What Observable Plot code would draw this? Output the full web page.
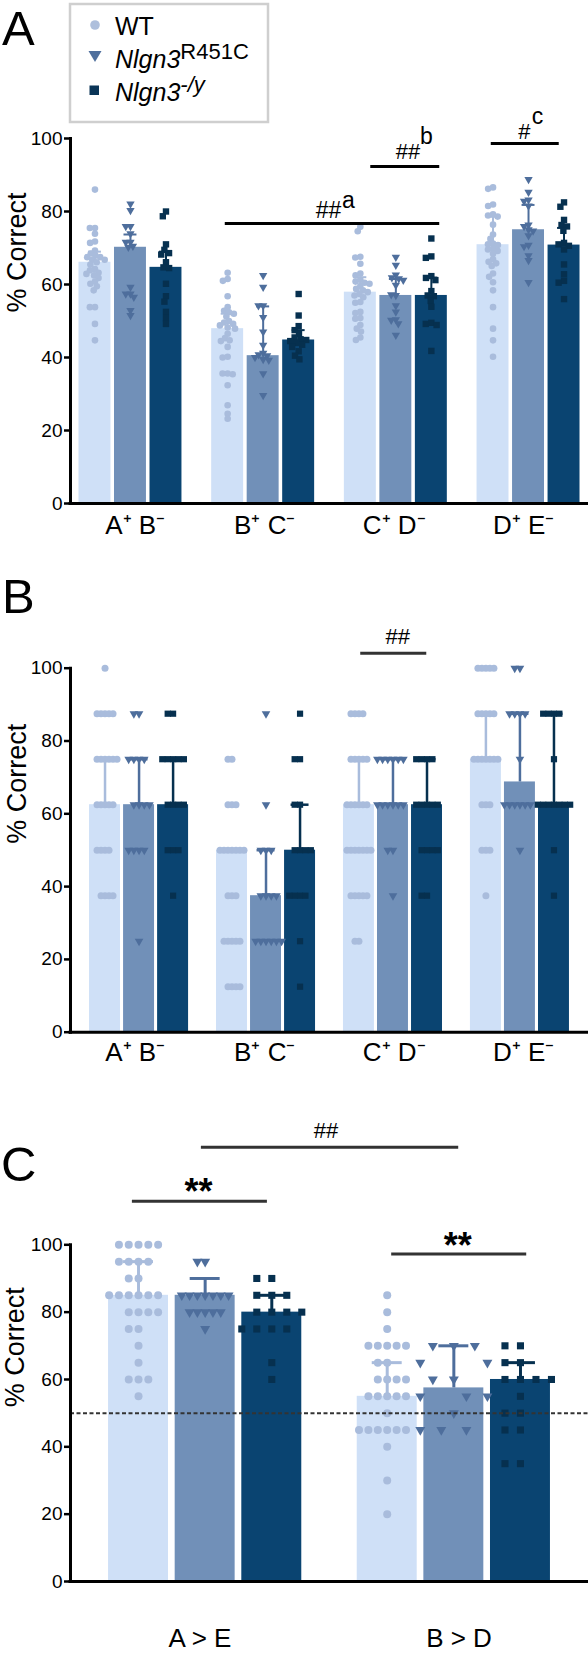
<!DOCTYPE html>
<html><head><meta charset="utf-8">
<script src="https://cdn.jsdelivr.net/npm/d3@7"></script>
<script src="https://cdn.jsdelivr.net/npm/@observablehq/plot@0.6"></script>
<style>
body{margin:0;background:#fff;font-family:"Liberation Sans",Arial,Helvetica,sans-serif;}
#page{position:relative;width:588px;height:1655px;overflow:hidden;background:#fff;}
.panel{position:absolute;left:0;width:588px;}
.panel svg{position:absolute;left:0;top:0;}
</style></head><body><div id="page">
<div class="panel" id="pA" style="top:0;height:540px"></div>
<div class="panel" id="pB" style="top:540px;height:550px"></div>
<div class="panel" id="pC" style="top:1090px;height:565px"></div>
<svg id="deco" width="588" height="1655" style="position:absolute;left:0;top:0;pointer-events:none;font-family:'Liberation Sans',Arial,sans-serif">
  <text x="2" y="45" font-size="49">A</text>
  <text x="2" y="613" font-size="49">B</text>
  <text x="1" y="1181" font-size="49">C</text>
  <rect x="70" y="4" width="198" height="118" fill="#fff" stroke="#cfcfcf" stroke-width="2.5"/>
  <circle cx="95" cy="25" r="4.8" fill="#aebfdc"/>
  <path d="M88.5,51 L101.5,51 L95,62 Z" fill="#4f6f9d"/>
  <rect x="89.5" y="85.5" width="9.5" height="9.5" fill="#0a3557"/>
  <text x="115" y="35" font-size="25">WT</text>
  <text x="115" y="68" font-size="25"><tspan font-style="italic">Nlgn3</tspan><tspan font-size="22" dy="-9">R451C</tspan></text>
  <text x="115" y="101" font-size="25"><tspan font-style="italic">Nlgn3</tspan><tspan font-size="22" dy="-9" font-style="italic">-/y</tspan></text>
</svg>
</div>
<script>
// ---------------- data ----------------
const genotypes = ["WT", "R451C", "KO"];
const groupsA = ["A⁺ B⁻", "B⁺ C⁻", "C⁺ D⁻", "D⁺ E⁻"];
const groupsB = ["A⁺ B⁻", "B⁺ C⁻", "C⁺ D⁻", "D⁺ E⁻"];
const groupsC = ["A > E", "B > D"];
const yTicks = [0, 20, 40, 60, 80, 100];
const chanceC = [50];

// Panel A: individual animals (% correct), one list per pair
const dotsA_WT = [
  [86.0, 75.5, 75.5, 73.9, 71.8, 71.4, 69.3, 68.5, 67.9, 67.5, 67.5, 66.8, 66.8, 66.1, 65.5, 64.2, 63.9, 63.2, 62.9, 62.5, 61.8, 60.8, 60.2, 59.5, 58.4, 53.8, 53.8, 49.2, 44.7],
  [63.2, 61.5, 61.0, 56.8, 53.8, 52.8, 52.4, 52.0, 51.2, 50.0, 49.6, 49.2, 48.8, 48.2, 47.9, 46.5, 45.3, 44.7, 44.5, 42.9, 40.2, 40.0, 35.6, 35.6, 35.4, 32.4, 26.9, 24.6, 23.2],
  [75.8, 74.6, 67.6, 67.4, 65.7, 63.0, 62.5, 61.3, 60.8, 60.5, 60.2, 59.6, 58.8, 58.4, 57.9, 57.4, 57.0, 56.5, 55.2, 55.0, 52.5, 52.2, 50.8, 50.6, 48.9, 47.9, 47.1, 45.5, 44.8],
  [86.6, 86.2, 81.9, 81.5, 79.2, 78.9, 78.6, 76.4, 73.7, 72.5, 71.2, 71.0, 70.8, 69.8, 69.6, 69.2, 68.4, 66.9, 66.2, 65.8, 65.1, 63.0, 62.1, 60.6, 58.4, 53.8, 47.9, 44.7, 40.2]
];
const dotsA_R451C = [
  [82.1, 80.3, 75.9, 75.9, 73.9, 71.6, 71.6, 70.5, 70.2, 59.3, 57.4, 57.4, 56.5, 52.9, 51.5],
  [62.5, 59.3, 54.2, 54.2, 51.0, 47.0, 43.4, 41.2, 40.8, 40.5, 40.0, 39.5, 39.3, 35.6, 29.6],
  [67.5, 65.3, 62.6, 61.9, 61.6, 61.2, 59.8, 57.0, 57.2, 54.2, 52.5, 50.4, 50.2, 49.3, 46.1],
  [88.8, 85.3, 83.2, 82.8, 81.5, 76.3, 75.9, 75.0, 74.7, 73.4, 70.8, 70.4, 67.9, 66.6, 60.6]
];
const dotsA_KO = [
  [80.0, 78.7, 71.0, 69.5, 68.6, 68.2, 66.1, 64.7, 64.5, 60.2, 56.8, 55.3, 52.5, 50.8, 49.2],
  [57.4, 51.5, 48.6, 47.5, 46.5, 45.5, 45.0, 44.8, 44.5, 44.0, 43.5, 42.9, 41.7, 40.5, 39.5],
  [72.6, 67.7, 67.3, 62.3, 61.8, 61.2, 58.2, 57.0, 56.8, 55.5, 53.9, 49.5, 49.2, 48.9, 41.8],
  [82.5, 81.3, 77.7, 76.3, 75.9, 74.7, 71.4, 71.0, 70.6, 69.6, 65.5, 62.8, 61.0, 60.5, 56.0]
];
// bar heights and upper error limits [group][WT, R451C, KO]
const barsA = [[66.1, 70.2, 64.7], [47.9, 40.5, 44.8], [57.9, 57.0, 57.0], [70.9, 75.0, 70.8]];
const errsA = [[69.0, 73.7, 69.0], [52.0, 54.0, 47.5], [62.0, 61.5, 61.9], [78.6, 81.8, 75.5]];
const sigA = [
  {from: "B⁺ C⁻", to: "C⁺ D⁻", at: "C⁺ D⁻", y: 76.7, label: "##", sup: "a"},
  {from: "C⁺ D⁻", to: "C⁺ D⁻", at: "C⁺ D⁻", y: 92.3, label: "##", sup: "b"},
  {from: "D⁺ E⁻", to: "D⁺ E⁻", at: "D⁺ E⁻", y: 98.6, label: "#", sup: "c"}
];

// Panel B
const dotsB_WT = [
  [100, 87.5, 87.5, 87.5, 87.5, 87.5, 75, 75, 75, 75, 75, 75, 62.5, 62.5, 62.5, 62.5, 62.5, 50, 50, 50, 50, 37.5, 37.5, 37.5, 37.5],
  [75, 75, 62.5, 62.5, 62.5, 50, 50, 50, 50, 50, 50, 50, 37.5, 37.5, 37.5, 25, 25, 25, 25, 25, 12.5, 12.5, 12.5, 12.5],
  [87.5, 87.5, 87.5, 87.5, 75, 75, 75, 75, 75, 62.5, 62.5, 62.5, 62.5, 62.5, 62.5, 50, 50, 50, 50, 50, 50, 50, 37.5, 37.5, 37.5, 37.5, 37.5, 25, 25],
  [100, 100, 100, 100, 100, 87.5, 87.5, 87.5, 87.5, 87.5, 75, 75, 75, 75, 75, 75, 75, 62.5, 62.5, 62.5, 50, 50, 50, 37.5]
];
const dotsB_R451C = [
  [87.5, 87.5, 75, 75, 75, 75, 62.5, 62.5, 62.5, 62.5, 50, 50, 50, 50, 25],
  [87.5, 62.5, 50, 50, 50, 37.5, 37.5, 37.5, 37.5, 25, 25, 25, 25, 25, 25],
  [75, 75, 75, 75, 75, 75, 62.5, 62.5, 62.5, 62.5, 62.5, 62.5, 50, 50, 37.5],
  [100, 100, 87.5, 87.5, 87.5, 87.5, 75, 62.5, 62.5, 62.5, 62.5, 62.5, 62.5, 50]
];
const dotsB_KO = [
  [87.5, 87.5, 75, 75, 75, 75, 75, 62.5, 62.5, 62.5, 62.5, 50, 50, 50, 37.5],
  [87.5, 75, 75, 62.5, 62.5, 50, 50, 50, 50, 37.5, 37.5, 37.5, 37.5, 25, 12.5],
  [75, 75, 75, 75, 62.5, 62.5, 62.5, 62.5, 62.5, 50, 50, 50, 50, 37.5, 37.5],
  [87.5, 87.5, 87.5, 87.5, 75, 62.5, 62.5, 62.5, 62.5, 62.5, 62.5, 62.5, 50, 37.5]
];
const barsB = [[62.5, 62.5, 62.5], [50, 37.5, 50], [62.5, 62.5, 62.5], [75, 68.75, 62.5]];
const errsB = [[75, 75, 75], [50, 50, 62.5], [75, 75, 75], [87.5, 87.5, 87.5]];
const sigB = [
  {from: "C⁺ D⁻", to: "C⁺ D⁻", at: "C⁺ D⁻", y: 104.1, label: "##", sup: null}
];

// Panel C
const dotsC_WT = [
  [100, 100, 100, 100, 100, 95, 95, 95, 95, 90, 90, 85, 85, 85, 85, 85, 85, 80, 80, 80, 80, 75, 75, 70, 65, 60, 60, 60, 55],
  [85, 80, 75, 70, 70, 70, 70, 70, 65, 65, 60, 60, 60, 60, 55, 55, 55, 55, 55, 50, 45, 45, 45, 45, 45, 45, 40, 30, 20]
];
const dotsC_R451C = [
  [95, 95, 85, 85, 85, 85, 85, 85, 85, 80, 80, 80, 80, 80, 75],
  [70, 70, 70, 65, 65, 60, 60, 55, 55, 55, 50, 45, 45, 45]
];
const dotsC_KO = [
  [90, 90, 85, 85, 85, 80, 80, 80, 80, 75, 75, 75, 75, 65, 60],
  [70, 70, 65, 65, 60, 60, 60, 60, 55, 50, 50, 45, 45, 35, 35]
];
const barsC = [[85, 85, 80], [55, 57.5, 60]];
const errsC = [[95, 90, 85], [65, 70, 65]];
const sigC = [
  {from: "A > E", to: "A > E", at: "A > E", y: 112.9, label: "**", sup: null},
  {from: "A > E", to: "B > D", at: "A > E", y: 129.0, label: "##", sup: null},
  {from: "B > D", to: "B > D", at: "B > D", y: 97.3, label: "**", sup: null}
];

// ---------------- style ----------------
const FONT = '"Liberation Sans", Arial, Helvetica, sans-serif';
const W = 588, ML = 70, MR = 0;
const barColor = {WT: "#cfe0f7", R451C: "#7190b8", KO: "#0a4471"};
const dotColor = {WT: "#a9bcdc", R451C: "#4e6e9c", KO: "#06304f"};
const triangleDown = {
  draw(context, size) {
    const a = Math.sqrt(size * 4 / Math.sqrt(3));
    const h = a * Math.sqrt(3) / 2;
    context.moveTo(-a / 2, -h / 3);
    context.lineTo(a / 2, -h / 3);
    context.lineTo(0, 2 * h / 3);
    context.closePath();
  }
};
const symbols = {WT: "circle", R451C: triangleDown, KO: "square"};

function buildPanel(el, cfg) {
  const {groups, bars, errs, dots} = cfg;
  const fxS = d3.scaleBand(groups, [ML, W - MR]).paddingInner(cfg.fxPad[0]).paddingOuter(cfg.fxPad[1]);
  const xS = d3.scaleBand(genotypes, [0, fxS.bandwidth()]).paddingInner(cfg.xPad).paddingOuter(0);
  // dodged dots are positioned from the facet centre; Plot also adds half a band of the x scale
  const shift = k => xS(k) - fxS.bandwidth() / 2;
  const half = fxS.bandwidth() / 2;

  const barData = groups.flatMap((g, i) => genotypes.map((k, j) => ({group: g, genotype: k, value: bars[i][j], err: errs[i][j]})));
  const marks = [Plot.barY(barData, {fx: "group", x: "genotype", y: "value", fill: "genotype"})];
  for (const k of genotypes) {
    const e = barData.filter(d => d.genotype === k && d.err > d.value);
    marks.push(Plot.ruleX(e, {fx: "group", x: "genotype", y1: "value", y2: "err", stroke: dotColor[k], strokeWidth: cfg.errW}));
    marks.push(Plot.tickY(e, {fx: "group", x: "genotype", y: "err", stroke: dotColor[k], strokeWidth: cfg.errW, insetLeft: cfg.capInset, insetRight: cfg.capInset}));
  }
  groups.forEach((g, i) => genotypes.forEach(k => {
    const pts = dots[k][i].map(v => ({group: g, value: v}));
    marks.push(Plot.dot(pts, Plot.dodgeX({anchor: "middle", padding: cfg.pad[k][i]},
      {fx: "group", y: "value", r: cfg.r[k], symbol: symbols[k], fill: dotColor[k], dx: shift(k)})));
  }));

  const common = {width: W, height: cfg.height, marginLeft: ML, marginRight: MR, marginTop: cfg.mt, marginBottom: cfg.mb,
    style: {fontFamily: FONT, background: "transparent", overflow: "visible"}};
  const facetPlot = Plot.plot({
    ...common,
    fx: {domain: groups, paddingInner: cfg.fxPad[0], paddingOuter: cfg.fxPad[1], round: false, axis: null, label: null},
    x: {domain: genotypes, paddingInner: cfg.xPad, paddingOuter: 0, round: false, axis: null},
    y: {domain: [0, 100], axis: null},
    color: {domain: genotypes, range: genotypes.map(k => barColor[k])},
    marks
  });

  const over = [];
  if (cfg.chance) over.push(Plot.ruleY(cfg.chance, {stroke: "#333", strokeWidth: 2, strokeDasharray: "4,2.5"}));
  over.push(
    Plot.frame({anchor: "left", strokeWidth: 3}),
    Plot.ruleY([0], {strokeWidth: 3, insetLeft: -1.5}),
    Plot.axisY(yTicks, {tickSize: 6, tickPadding: 2, fontSize: 19, strokeWidth: 2.5, label: null}),
    Plot.axisX({tickSize: 0, tickPadding: cfg.xLabelPad, fontSize: cfg.xLabelSize, label: null}),
    Plot.text(["% Correct"], {frameAnchor: "left", rotate: -90, dx: cfg.yLabelDx, dy: cfg.yLabelDy, fontSize: 27})
  );
  cfg.sig.forEach((s, n) => {
    const st = cfg.sigStyle[n];
    // rule ends sit on band centres: insets measured from the band edges
    over.push(Plot.ruleY([s], {x1: "from", x2: "to", y: "y", stroke: cfg.sigColor, strokeWidth: 3, insetLeft: st.il - half, insetRight: st.ir - half}));
    over.push(Plot.text([s], {x: "at", y: "y", text: "label", dx: st.dx, dy: st.dy, fontSize: st.fs, fontWeight: st.fw || "normal", lineAnchor: st.anchor || "bottom"}));
    if (s.sup) over.push(Plot.text([s], {x: "at", y: "y", text: "sup", dx: st.sdx, dy: st.sdy, textAnchor: "start", fontSize: st.sfs, lineAnchor: "bottom"}));
  });
  const overlay = Plot.plot({
    ...common,
    x: {domain: groups, paddingInner: cfg.fxPad[0], paddingOuter: cfg.fxPad[1], round: false, axis: null},
    y: {domain: [0, 100], axis: null},
    marks: over
  });
  el.append(facetPlot, overlay);
}

buildPanel(document.getElementById("pA"), {
  groups: groupsA, bars: barsA, errs: errsA,
  dots: {WT: dotsA_WT, R451C: dotsA_R451C, KO: dotsA_KO},
  height: 540, mt: 138, mb: 37, fxPad: [0.224, 0.064], xPad: 0.1,
  errW: 2, capInset: 9.5, xLabelPad: 12, xLabelSize: 26, yLabelDx: -53, yLabelDy: -8.5,
  r: {WT: 3.3, R451C: 3.1, KO: 3.6},
  pad: {WT: [-1.5, -1.5, -1.5, -1.5], R451C: [-1.5, -1.5, -1.5, -1.5], KO: [-1.5, -1.5, -1.5, -1.5]},
  sig: sigA, sigColor: "#000",
  sigStyle: [
    {il: 12, ir: 6, dx: -65.8, dy: -6, fs: 23, sdx: -52.3, sdy: -16, sfs: 23},
    {il: 28, ir: 6, dx: 13.7, dy: -8, fs: 22, sdx: 25.7, sdy: -23, sfs: 23},
    {il: 19, ir: 16, dx: 0.5, dy: -5, fs: 22, sdx: 8, sdy: -20, sfs: 23}
  ]
});
buildPanel(document.getElementById("pB"), {
  groups: groupsB, bars: barsB, errs: errsB,
  dots: {WT: dotsB_WT, R451C: dotsB_R451C, KO: dotsB_KO},
  height: 550, mt: 127.7, mb: 58.3, fxPad: [0.22, 0.15], xPad: 0.09,
  errW: 2.5, capInset: 6.5, xLabelPad: 10, xLabelSize: 26, yLabelDx: -53, yLabelDy: -6.4,
  r: {WT: 3.5, R451C: 3.2, KO: 3.5},
  pad: {WT: [-3, -3, -3, -3], R451C: [-1.2, -1.2, -1.2, -1.2], KO: [-1.6, -1.6, -1.6, -1.6]},
  sig: sigB, sigColor: "#333",
  sigStyle: [{il: 16, ir: 17, dx: 3.5, dy: -9.7, fs: 22}]
});
buildPanel(document.getElementById("pC"), {
  groups: groupsC, bars: barsC, errs: errsC,
  dots: {WT: dotsC_WT, R451C: dotsC_R451C, KO: dotsC_KO},
  height: 565, mt: 154.3, mb: 74, fxPad: [0.223, 0.153], xPad: 0.1,
  errW: 3, capInset: 15, xLabelPad: 47, xLabelSize: 26, yLabelDx: -55, yLabelDy: -6,
  r: {WT: 4, R451C: 3.7, KO: 4},
  pad: {WT: [1.8, 1.4], R451C: [0.4, 13.6], KO: [7, 7.5]},
  chance: chanceC,
  sig: sigC, sigColor: "#333",
  sigStyle: [
    {il: 29, ir: 29.2, dx: -1.6, dy: -23, fs: 36, fw: "bold", anchor: "top"},
    {il: 98, ir: 96.9, dx: 125.9, dy: -8.7, fs: 22},
    {il: 29.3, ir: 28.9, dx: -1.3, dy: -21.6, fs: 36, fw: "bold", anchor: "top"}
  ]
});
</script>
</body></html>
